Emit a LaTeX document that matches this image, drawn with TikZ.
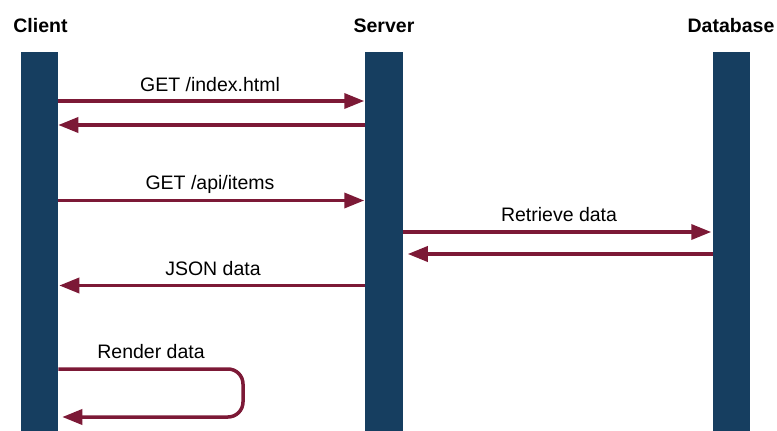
\documentclass[tikz,border=0pt]{standalone}
\usepackage{fontspec}
\setmainfont{Liberation Sans}
\usetikzlibrary{arrows.meta}
\definecolor{barblue}{RGB}{22,62,96}
\definecolor{msgred}{RGB}{124,25,54}
\tikzset{
  lifebar/.style={fill=barblue, draw=none, minimum width=37.5pt, minimum height=380pt, inner sep=0pt, outer sep=0pt},
  head/.style={font=\fontsize{19.5}{23}\selectfont\bfseries, anchor=base, inner sep=0pt},
  lbl/.style={font=\fontsize{19.5}{23}\selectfont, anchor=base, inner sep=0pt},
  msg/.style={draw=msgred, line width=3.5pt, -{Triangle[length=20pt,width=15pt]}},
}
\begin{document}
\begin{tikzpicture}[x=1pt,y=-1pt]
\useasboundingbox (0,0) rectangle (777,431);
% lifelines
\node[lifebar] (client) at (39.5,242) {};
\node[lifebar] (server) at (384,242) {};
\node[lifebar] (db) at (731.5,242) {};
% headers
\node[head] (hc) at (40.5,32) {Client};
\node[head] (hs) at (384,32) {Server};
\node[head] (hd) at (731,32) {Database};
% labels
\node[lbl] (l1) at (210,91) {GET /index.html};
\node[lbl] (l3) at (210,189.5) {GET /api/items};
\node[lbl] (l4) at (559,221.5) {Retrieve data};
\node[lbl] (l6) at (213,275.5) {JSON data};
\node[lbl] (l7) at (151,358) {Render data};
% messages
\draw[msg, shorten >=1pt] (client.east |- 0,101) -- (server.west |- 0,101);
\draw[msg] (server.west |- 0,125) -- (client.east |- 0,125);
\draw[msg, shorten >=1pt] (client.east |- 0,200.5) -- (server.west |- 0,200.5);
\draw[msg, shorten >=1.5pt] (server.east |- 0,232) -- (db.west |- 0,232);
\draw[msg, shorten >=5pt] (db.west |- 0,254) -- (server.east |- 0,254);
\draw[msg, shorten >=1pt] (server.west |- 0,285.5) -- (client.east |- 0,285.5);
\draw[msg, shorten >=4pt, rounded corners=15pt] (client.east |- 0,369) -- (243,369) -- (243,417) -- (client.east |- 0,417);
\end{tikzpicture}
\end{document}
